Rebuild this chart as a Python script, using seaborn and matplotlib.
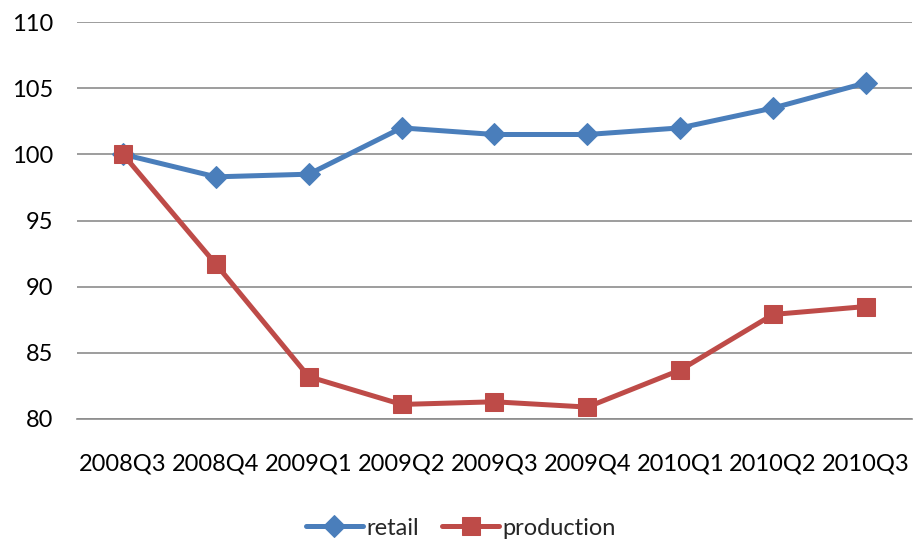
import matplotlib
matplotlib.use("Agg")
import matplotlib.pyplot as plt
import seaborn as sns
import pandas as pd

quarters = ["2008Q3", "2008Q4", "2009Q1", "2009Q2", "2009Q3", "2009Q4", "2010Q1", "2010Q2", "2010Q3"]
retail = [100.0, 98.3, 98.5, 102.0, 101.5, 101.5, 102.0, 103.5, 105.4]
production = [100.0, 91.7, 83.2, 81.1, 81.3, 80.9, 83.7, 87.9, 88.5]

sns.set_theme(style="white")
plt.rcParams['font.family'] = ['Lato', 'DejaVu Sans']

df = pd.DataFrame({"quarter": quarters, "retail": retail, "production": production})
df["x"] = range(len(quarters))

fig = plt.figure(figsize=(9.13, 5.45), dpi=100)
ax = fig.add_axes([0.0839, 0.2312, 0.9154, 0.7284])

sns.lineplot(data=df, x="x", y="retail", ax=ax, color="#4A7EBB", linewidth=3.6,
             marker="D", markersize=11.5, markeredgecolor="#4A7EBB", label="retail")
sns.lineplot(data=df, x="x", y="production", ax=ax, color="#BE4B48", linewidth=3.6,
             marker="s", markersize=13, markeredgecolor="#BE4B48", label="production")

ax.set_xlim(-0.5, len(quarters) - 0.5)
ax.set_ylim(80, 110)
ax.set_yticks(range(80, 111, 5))
ax.set_xticks(df["x"])
ax.set_xticklabels(quarters)
ax.set_xlabel("")
ax.set_ylabel("")
ax.grid(axis="y", color="#8C8C8C", linewidth=1.2)
ax.set_axisbelow(True)
for s in ["top", "right", "left"]:
    ax.spines[s].set_visible(False)
ax.spines["bottom"].set_color("#8C8C8C")
ax.spines["bottom"].set_linewidth(1.2)
ax.tick_params(axis="both", length=0, labelsize=17, colors="black")
ax.tick_params(axis="x", pad=25)
ax.tick_params(axis="y", pad=17)

fig.legend(*ax.get_legend_handles_labels(), loc="center", bbox_to_anchor=(0.505, 0.031),
           ncol=2, frameon=False, fontsize=17, handlelength=2.4, columnspacing=1.0,
           handletextpad=0.15)
ax.get_legend().remove()

fig.savefig("out.png", dpi=100)
